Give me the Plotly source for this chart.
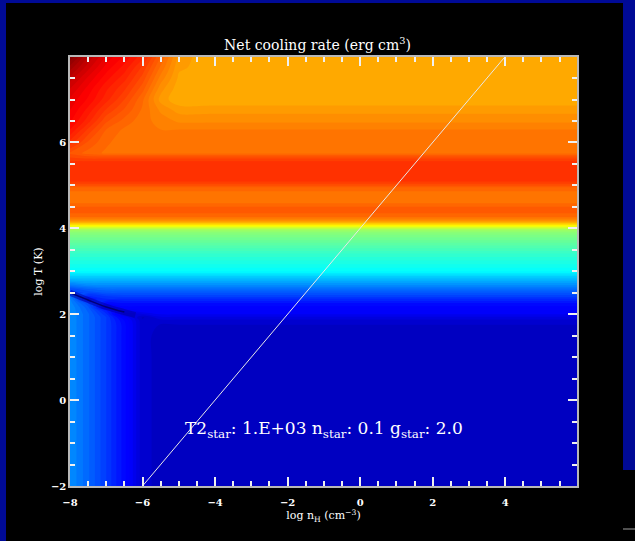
import plotly.graph_objects as go

# log n_H grid (columns) and log T grid (rows)
N_GRID = [-8, -7.5, -7, -6.5, -6, -5.5, -5, -4, 6]
T_GRID = [-2, -1, 0, 1, 1.5, 1.75, 1.85, 1.93, 2.0, 2.08, 2.15, 2.25, 2.35, 2.42, 2.5,
          2.58, 2.7, 2.85, 3.0, 3.2, 3.4, 3.6, 3.8, 3.9, 3.97, 4.02, 4.07, 4.12, 4.17,
          4.25, 4.35, 4.5, 4.6, 4.8, 4.93, 5.0, 5.1, 5.3, 5.55, 5.65, 5.75, 6.0, 6.3,
          6.5, 6.75, 7.0, 7.25, 7.5, 7.75, 8.0]

# scaled log |net cooling rate| (0..1 on the colour table)
Z = [
    [0.25, 0.215, 0.175, 0.13, 0.065, 0.06, 0.06, 0.06, 0.06],      # -2
    [0.25, 0.215, 0.175, 0.13, 0.065, 0.06, 0.06, 0.06, 0.06],      # -1
    [0.25, 0.215, 0.175, 0.13, 0.065, 0.06, 0.06, 0.06, 0.06],      # 0
    [0.25, 0.215, 0.175, 0.13, 0.065, 0.06, 0.06, 0.06, 0.06],      # 1
    [0.25, 0.215, 0.175, 0.13, 0.065, 0.06, 0.06, 0.06, 0.06],      # 1.5
    [0.25, 0.215, 0.175, 0.13, 0.065, 0.062, 0.062, 0.062, 0.062],  # 1.75
    [0.25, 0.215, 0.175, 0.125, 0.065, 0.07, 0.07, 0.07, 0.07],     # 1.85
    [0.25, 0.215, 0.175, 0.11, 0.06, 0.085, 0.085, 0.085, 0.085],   # 1.93
    [0.25, 0.215, 0.165, 0.08, 0.085, 0.10, 0.10, 0.10, 0.10],      # 2.0
    [0.25, 0.21, 0.15, 0.10, 0.11, 0.11, 0.11, 0.11, 0.11],         # 2.08
    [0.25, 0.205, 0.11, 0.12, 0.12, 0.12, 0.12, 0.12, 0.12],        # 2.15
    [0.245, 0.19, 0.13, 0.135, 0.135, 0.135, 0.135, 0.135, 0.135],  # 2.25
    [0.24, 0.14, 0.16, 0.16, 0.16, 0.16, 0.16, 0.16, 0.16],         # 2.35
    [0.23, 0.16, 0.175, 0.18, 0.18, 0.18, 0.18, 0.18, 0.18],        # 2.42
    [0.18, 0.19, 0.20, 0.20, 0.20, 0.20, 0.20, 0.20, 0.20],         # 2.5
    [0.19, 0.21, 0.22, 0.22, 0.22, 0.22, 0.22, 0.22, 0.22],         # 2.58
    [0.24, 0.255, 0.255, 0.255, 0.255, 0.255, 0.255, 0.255, 0.255], # 2.7
    [0.30, 0.30, 0.30, 0.30, 0.30, 0.30, 0.30, 0.30, 0.30],         # 2.85
    [0.35, 0.35, 0.35, 0.35, 0.35, 0.35, 0.35, 0.35, 0.35],         # 3.0
    [0.38, 0.38, 0.38, 0.38, 0.38, 0.38, 0.38, 0.38, 0.38],         # 3.2
    [0.41, 0.41, 0.41, 0.41, 0.41, 0.41, 0.41, 0.41, 0.41],         # 3.4
    [0.45, 0.45, 0.45, 0.45, 0.45, 0.45, 0.45, 0.45, 0.45],         # 3.6
    [0.49, 0.49, 0.49, 0.49, 0.49, 0.49, 0.49, 0.49, 0.49],         # 3.8
    [0.51, 0.51, 0.51, 0.51, 0.51, 0.51, 0.51, 0.51, 0.51],         # 3.9
    [0.54, 0.54, 0.54, 0.54, 0.54, 0.54, 0.54, 0.54, 0.54],         # 3.97
    [0.60, 0.60, 0.60, 0.60, 0.60, 0.60, 0.60, 0.60, 0.60],         # 4.02
    [0.66, 0.66, 0.66, 0.66, 0.66, 0.66, 0.66, 0.66, 0.66],         # 4.07
    [0.71, 0.71, 0.71, 0.71, 0.71, 0.71, 0.71, 0.71, 0.71],         # 4.12
    [0.75, 0.75, 0.75, 0.75, 0.75, 0.75, 0.75, 0.75, 0.75],         # 4.17
    [0.785, 0.785, 0.785, 0.785, 0.785, 0.785, 0.785, 0.785, 0.785],# 4.25
    [0.80, 0.80, 0.80, 0.80, 0.80, 0.80, 0.80, 0.80, 0.80],         # 4.35
    [0.80, 0.80, 0.80, 0.80, 0.80, 0.80, 0.80, 0.80, 0.80],         # 4.5
    [0.785, 0.785, 0.785, 0.785, 0.785, 0.785, 0.785, 0.785, 0.785],# 4.6
    [0.785, 0.785, 0.785, 0.785, 0.785, 0.785, 0.785, 0.785, 0.785],# 4.8
    [0.79, 0.79, 0.79, 0.79, 0.79, 0.79, 0.79, 0.79, 0.79],         # 4.93
    [0.815, 0.815, 0.815, 0.815, 0.815, 0.815, 0.815, 0.815, 0.815],# 5.0
    [0.84, 0.84, 0.84, 0.84, 0.84, 0.84, 0.84, 0.84, 0.84],         # 5.1
    [0.845, 0.845, 0.845, 0.845, 0.845, 0.845, 0.845, 0.845, 0.845],# 5.3
    [0.84, 0.84, 0.84, 0.84, 0.84, 0.84, 0.84, 0.84, 0.84],         # 5.55
    [0.825, 0.82, 0.82, 0.82, 0.82, 0.82, 0.82, 0.82, 0.82],        # 5.65
    [0.81, 0.795, 0.785, 0.785, 0.785, 0.785, 0.785, 0.785, 0.785], # 5.75
    [0.845, 0.81, 0.79, 0.78, 0.775, 0.775, 0.775, 0.775, 0.775],   # 6.0
    [0.875, 0.835, 0.80, 0.785, 0.775, 0.775, 0.775, 0.775, 0.775], # 6.3
    [0.89, 0.855, 0.815, 0.795, 0.78, 0.77, 0.76, 0.76, 0.76],      # 6.5
    [0.90, 0.87, 0.835, 0.81, 0.785, 0.76, 0.745, 0.745, 0.745],    # 6.75
    [0.91, 0.885, 0.855, 0.825, 0.79, 0.745, 0.728, 0.728, 0.728],  # 7.0
    [0.925, 0.895, 0.865, 0.84, 0.805, 0.755, 0.73, 0.725, 0.725],  # 7.25
    [0.945, 0.91, 0.88, 0.855, 0.82, 0.77, 0.735, 0.725, 0.725],    # 7.5
    [0.97, 0.93, 0.895, 0.87, 0.835, 0.785, 0.74, 0.73, 0.73],      # 7.75
    [1.0, 0.95, 0.91, 0.885, 0.855, 0.80, 0.745, 0.725, 0.725],     # 8.0
]

# zero-crossing of the net cooling rate (dark valley at low density)
ZERO_N = [-8, -7.5, -7, -6.5, -6.2]
ZERO_T = [2.5, 2.33, 2.17, 2.05, 1.98]

# n_star / T2_star polytrope line
LINE_N = [-6, 4]
LINE_T = [-2, 8]

X_TICKS = [-8, -6, -4, -2, 0, 2, 4]
Y_TICKS = [-2, 0, 2, 4, 6]

JET = [
    [0.0, "rgb(0,0,128)"],
    [0.11, "rgb(0,0,255)"],
    [0.125, "rgb(0,0,255)"],
    [0.35, "rgb(0,255,255)"],
    [0.5, "rgb(128,255,128)"],
    [0.65, "rgb(255,255,0)"],
    [0.89, "rgb(255,0,0)"],
    [1.0, "rgb(128,0,0)"],
]

FONT = "DejaVu Serif"
W, H = 635, 541
L, R, T, B = 70, 58, 57, 55
PW, PH = W - L - R, H - T - B


def px(xp):
    return (xp - L) / PW


def py(yp):
    return (H - B - yp) / PH


fig = go.Figure()
fig.add_trace(go.Contour(
    x=N_GRID, y=T_GRID, z=Z,
    colorscale=JET, zmin=0, zmax=1,
    contours=dict(start=0, end=1, size=0.0125, coloring="fill", showlines=False),
    line=dict(width=0),
    showscale=False,
    hoverinfo="skip",
))
fig.add_trace(go.Scatter(
    x=ZERO_N, y=ZERO_T, mode="lines",
    line=dict(color="rgba(0,0,170,0.55)", width=6, shape="spline"),
    showlegend=False, hoverinfo="skip",
))
fig.add_trace(go.Scatter(
    x=ZERO_N[:4], y=ZERO_T[:4], mode="lines",
    line=dict(color="rgb(0,0,120)", width=1.5, shape="spline"),
    showlegend=False, hoverinfo="skip",
))
fig.add_trace(go.Scatter(
    x=LINE_N, y=LINE_T, mode="lines",
    line=dict(color="#e8e8e8", width=1),
    showlegend=False, hoverinfo="skip",
))

axis_common = dict(
    showgrid=False, zeroline=False,
    showline=True, linecolor="#b8b8b8", linewidth=1.5,
    mirror="ticks", ticks="inside", ticklen=9, tickwidth=1.5, tickcolor="#f0f0f0",
    tickfont=dict(family=FONT, size=10, color="white", weight="bold"),
    minor=dict(ticks="inside", ticklen=5, tickwidth=1.5, tickcolor="#f0f0f0",
               tickmode="linear", tick0=0, dtick=0.5),
)

fig.update_layout(
    width=W, height=H,
    margin=dict(l=L, r=R, t=T, b=B),
    paper_bgcolor="black", plot_bgcolor="black",
    showlegend=False,
    xaxis=dict(range=[-8, 5.98], tickvals=X_TICKS, ticktext=[f"{v}".replace("-", "\u2212") for v in X_TICKS],
               ticklabelstandoff=6,
               title=dict(text="log n<sub>H</sub> (cm<sup>\u22123</sup>)", font=dict(family=FONT, size=11, color="white"), standoff=3),
               **axis_common),
    yaxis=dict(range=[-2, 7.99], tickvals=Y_TICKS, ticktext=[f"{v}".replace("-", "\u2212") for v in Y_TICKS],
               title=dict(text="log T (K)", font=dict(family=FONT, size=11, color="white"), standoff=6),
               **axis_common),
    title=dict(text="Net cooling rate (erg cm<sup>3</sup>)", x=px(323.5), xanchor="center",
               y=1 - 45 / H, yanchor="middle",
               font=dict(family=FONT, size=14, color="white")),
    annotations=[dict(
        x=-1.0, y=-0.69, xref="x", yref="y",
        text="T2<sub>star</sub>: 1.E+03 n<sub>star</sub>: 0.1 g<sub>star</sub>: 2.0",
        showarrow=False, font=dict(family=FONT, size=17, color="white"),
    )],
    shapes=[
        dict(type="rect", xref="paper", yref="paper", x0=px(0), x1=px(6), y0=py(H), y1=py(0),
             fillcolor="#000a96", line=dict(width=0), layer="above"),
        dict(type="rect", xref="paper", yref="paper", x0=px(0), x1=px(W), y0=py(3), y1=py(0),
             fillcolor="#000a96", line=dict(width=0), layer="above"),
        dict(type="rect", xref="paper", yref="paper", x0=px(623), x1=px(W), y0=py(470), y1=py(0),
             fillcolor="#000a96", line=dict(width=0), layer="above"),
        dict(type="line", xref="paper", yref="paper", x0=px(623), x1=px(W), y0=py(529), y1=py(529),
             line=dict(color="#a0a0a0", width=1)),
    ],
)

fig.write_html("out.html", config={"displayModeBar": False},
               post_script="document.body.style.margin='0px';document.body.style.background='black';")
